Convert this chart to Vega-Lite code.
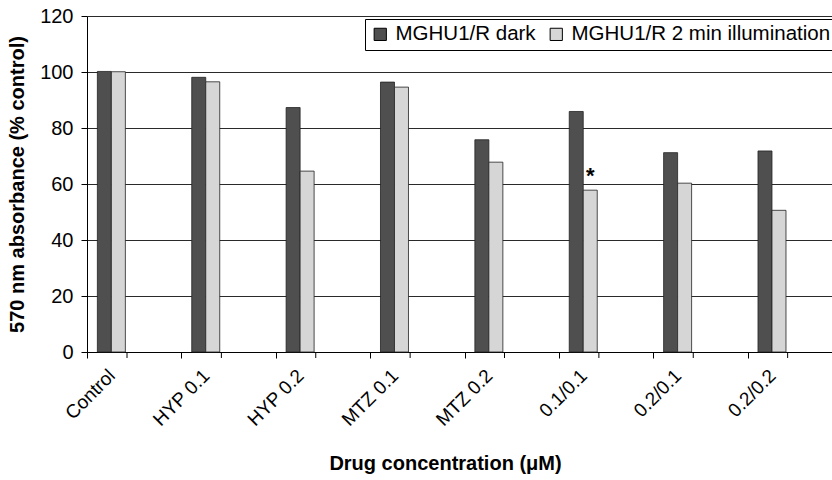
{
  "$schema": "https://vega.github.io/schema/vega-lite/v6.json",
  "width": 755,
  "height": 336,
  "padding": {"left": 7, "top": 6, "right": 0, "bottom": 4},
  "background": "white",
  "config": {
    "view": {"stroke": null},
    "font": "Liberation Sans"
  },
  "data": {
    "values": [
      {"drug": "Control", "series": "MGHU1/R dark", "value": 100.2},
      {"drug": "Control", "series": "MGHU1/R 2 min illumination", "value": 100.1},
      {"drug": "HYP 0.1", "series": "MGHU1/R dark", "value": 98.1},
      {"drug": "HYP 0.1", "series": "MGHU1/R 2 min illumination", "value": 96.5},
      {"drug": "HYP 0.2", "series": "MGHU1/R dark", "value": 87.3},
      {"drug": "HYP 0.2", "series": "MGHU1/R 2 min illumination", "value": 64.6},
      {"drug": "MTZ 0.1", "series": "MGHU1/R dark", "value": 96.4},
      {"drug": "MTZ 0.1", "series": "MGHU1/R 2 min illumination", "value": 94.6},
      {"drug": "MTZ 0.2", "series": "MGHU1/R dark", "value": 75.8},
      {"drug": "MTZ 0.2", "series": "MGHU1/R 2 min illumination", "value": 67.8},
      {"drug": "0.1/0.1", "series": "MGHU1/R dark", "value": 85.9},
      {"drug": "0.1/0.1", "series": "MGHU1/R 2 min illumination", "value": 57.8, "mark": "*"},
      {"drug": "0.2/0.1", "series": "MGHU1/R dark", "value": 71.2},
      {"drug": "0.2/0.1", "series": "MGHU1/R 2 min illumination", "value": 60.3},
      {"drug": "0.2/0.2", "series": "MGHU1/R dark", "value": 71.8},
      {"drug": "0.2/0.2", "series": "MGHU1/R 2 min illumination", "value": 50.6}
    ]
  },
  "encoding": {
    "x": {
      "field": "drug",
      "type": "nominal",
      "sort": null,
      "scale": {"paddingInner": 0, "paddingOuter": 0},
      "axis": {
        "orient": "bottom",
        "title": "Drug concentration (μM)",
        "titleFont": "Liberation Sans",
        "titleFontSize": 20,
        "titleFontWeight": "bold",
        "titleColor": "black",
        "titlePadding": 24,
        "titleX": 358,
        "labelAngle": -45,
        "labelFontSize": 19,
        "labelColor": "black",
        "labelOffset": -29,
        "labelPadding": 8,
        "tickBand": "extent",
        "tickColor": "black",
        "tickSize": 6,
        "domainColor": "black",
        "grid": false
      }
    },
    "y": {
      "field": "value",
      "type": "quantitative",
      "scale": {"domain": [0, 120], "nice": false},
      "axis": {
        "title": "570 nm absorbance (% control)",
        "titleFont": "Liberation Sans",
        "titleFontSize": 20,
        "titleFontWeight": "bold",
        "titleColor": "black",
        "titlePadding": 12,
        "values": [0, 20, 40, 60, 80, 100, 120],
        "labelFontSize": 20,
        "labelColor": "black",
        "labelPadding": 8,
        "tickColor": "black",
        "tickSize": 6,
        "domainColor": "black",
        "grid": true,
        "gridColor": "#2a2a2a",
        "gridWidth": 1
      }
    }
  },
  "layer": [
    {
      "mark": {"type": "bar", "stroke": "#222222", "strokeWidth": 0.8},
      "encoding": {
        "xOffset": {
          "field": "series",
          "type": "nominal",
          "scale": {
            "domain": ["MGHU1/R dark", "MGHU1/R 2 min illumination", "p1", "p2", "p3", "p4"],
            "paddingInner": 0,
            "paddingOuter": 0.37,
            "align": 1
          }
        },
        "color": {
          "field": "series",
          "type": "nominal",
          "scale": {
            "domain": ["MGHU1/R dark", "MGHU1/R 2 min illumination"],
            "range": ["#4f4f4f", "#d6d6d6"]
          },
          "legend": {
            "title": null,
            "orient": "none",
            "direction": "horizontal",
            "legendX": 278,
            "legendY": 3,
            "labelFontSize": 20.5,
            "labelLimit": 0,
            "labelColor": "black",
            "labelFont": "Liberation Sans",
            "symbolType": "square",
            "symbolSize": 150,
            "symbolStrokeColor": "black",
            "symbolStrokeWidth": 1,
            "columnPadding": 10,
            "labelOffset": 5,
            "strokeColor": "black",
            "fillColor": "white",
            "padding": 5
          }
        }
      }
    },
    {
      "transform": [{"filter": "datum.mark != null"}],
      "mark": {"type": "text", "fontSize": 22, "fontWeight": "bold", "baseline": "bottom", "dy": -2, "color": "black"},
      "encoding": {
        "xOffset": {"field": "series", "type": "nominal"},
        "text": {"field": "mark"}
      }
    },
    {
      "transform": [{"filter": "datum.series == 'MGHU1/R dark'"}],
      "mark": {"type": "rule", "color": "black", "strokeWidth": 1},
      "encoding": {
        "x": {"field": "drug", "type": "nominal", "sort": null, "bandPosition": 0.424},
        "y": {"datum": 0},
        "y2": {"datum": -2.14}
      }
    }
  ]
}
